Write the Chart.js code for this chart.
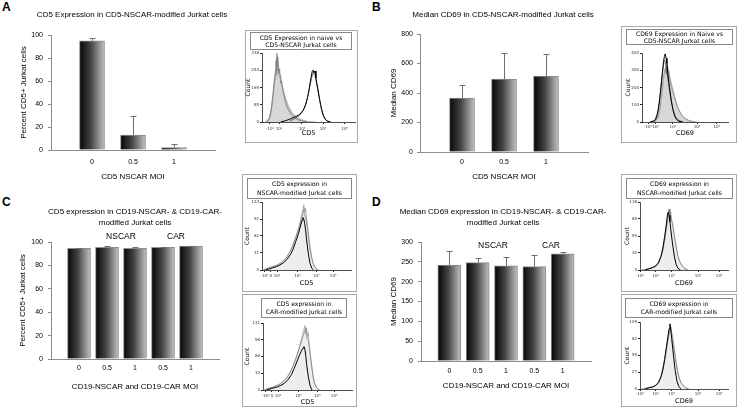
<!DOCTYPE html>
<html lang="en">
<head>
<meta charset="UTF-8">
<title>CD5 / CD69 in NSCAR-modified Jurkat cells</title>
<script src="https://cdn.jsdelivr.net/npm/chart.js"></script>
<style>
  body { margin: 0; width: 738px; height: 412px; background: #fff; position: relative; overflow: hidden;
         font-family: "Liberation Sans", Arial, sans-serif; color: #000; }
  canvas { position: absolute; }
  .t { position: absolute; transform: translate(-50%, -50%) translateZ(0); will-change: transform; white-space: nowrap; font-size: 8px; }
  .letter { position: absolute; font-weight: bold; font-size: 12px; line-height: 12px; }
  .box { position: absolute; border: 1px solid #a8a8a8; box-sizing: border-box; }
  .ibox { position: absolute; border: 1px solid #888; box-sizing: border-box; background: #fff; z-index: 2;
          font-family: "DejaVu Sans", sans-serif; font-size: 6.1px; text-align: center; will-change: transform;
          display: flex; flex-direction: column; justify-content: center; }
</style>
</head>
<body>

<div class="letter" style="left:2px;top:1px">A</div>
<div class="letter" style="left:372px;top:1px">B</div>
<div class="letter" style="left:2px;top:196px">C</div>
<div class="letter" style="left:372px;top:196px">D</div>

<div class="t" style="left:132px;top:14px">CD5 Expression in CD5-NSCAR-modified Jurkat cells</div>
<div class="t" style="left:503px;top:14px">Median CD69 in CD5-NSCAR-modified Jurkat cells</div>
<div class="t" style="left:135px;top:211px">CD5 expression in CD19-NSCAR- &amp; CD19-CAR-</div>
<div class="t" style="left:135px;top:222px">modified Jurkat cells</div>
<div class="t" style="left:503px;top:211px">Median CD69 expression in CD19-NSCAR- &amp; CD19-CAR-</div>
<div class="t" style="left:503px;top:222px">modified Jurkat cells</div>

<div class="t" style="left:121px;top:236px;font-size:8.5px">NSCAR</div>
<div class="t" style="left:176px;top:236px;font-size:8.5px">CAR</div>
<div class="t" style="left:493px;top:245px;font-size:8.5px">NSCAR</div>
<div class="t" style="left:551px;top:245px;font-size:8.5px">CAR</div>

<script>
// ---- bar data ----
const moiAB = ['0', '0.5', '1'];
const pctCD5A = [95, 13, 2];
const pctCD5AErr = [2, 17, 3.5];
const medCD69B = [365, 495, 515];
const medCD69BErr = [90, 177, 147];

const moiCD = ['0', '0.5', '1', '0.5', '1'];
const pctCD5C = [94.5, 95.5, 94.5, 95.5, 96.5];
const pctCD5CErr = [0.5, 1, 1.5, 0.6, 0.5];
const medCD69D = [242, 248, 240, 238, 270];
const medCD69DErr = [36, 12, 23, 30, 5];

// ---- flow histograms: [channel (0-100 along axis), count] ----
const insANaive1 = [[3,0],[6,8],[8,25],[10,70],[11,110],[12,150],[13,200],[14,250],[15,290],[16,320],[17,300],[18,270],[19,240],[20,215],[22,175],[24,140],[26,110],[28,85],[30,65],[33,45],[36,30],[40,18],[45,8],[50,3],[58,0]];
const insANaive2 = [[5,0],[8,20],[10,60],[12,140],[13,190],[14,230],[15,300],[15.5,250],[16,338],[16.5,280],[17,320],[18,240],[19,260],[20,190],[21,200],[23,140],[25,100],[27,70],[30,45],[34,22],[40,8],[48,0]];
const insANaive3 = [[6,0],[9,30],[11,90],[13,170],[14,210],[15,260],[16,230],[17,280],[18,250],[19,220],[20,230],[22,160],[24,130],[26,95],[29,60],[32,40],[36,20],[42,6],[50,0]];
const insANscar1 = [[20,0],[25,6],[30,14],[35,24],[40,35],[44,55],[47,85],[49,120],[51,170],[53,225],[54,248],[55,254],[56,240],[57,250],[58,215],[60,165],[62,110],[64,65],[66,32],[68,14],[70,5],[74,0]];
const insANscar2 = [[30,5],[36,18],[42,40],[46,70],[50,140],[53,210],[55,240],[57,230],[59,180],[61,130],[63,80],[65,40],[68,12],[72,0]];

const insBNscar1 = [[9,0],[13,4],[16,15],[18,45],[20,110],[22,200],[24,300],[25,350],[26,380],[27,395],[28,370],[29,340],[30,280],[32,200],[34,125],[36,70],[38,35],[40,15],[43,4],[47,0]];
const insBNscar2 = [[10,0],[15,10],[19,70],[21,150],[23,250],[25,330],[26,360],[27,350],[28,320],[30,250],[33,150],[36,75],[39,30],[43,8],[48,0]];
const insBNaive1 = [[12,0],[16,6],[19,25],[21,70],[23,150],[25,240],[27,300],[28,330],[29,310],[30,320],[31,290],[33,250],[35,210],[37,170],[39,130],[41,95],[44,60],[47,35],[50,18],[54,8],[58,3],[64,0]];
const insBNaive2 = [[14,0],[18,20],[21,90],[23,180],[25,270],[27,310],[28,280],[29,340],[30,260],[31,300],[33,230],[35,190],[38,140],[41,90],[45,50],[49,25],[55,8],[62,0]];

const insCTopGray1 = [[0,0],[4,2],[8,4],[12,6],[16,8],[20,11],[24,16],[28,23],[31,32],[34,42],[37,55],[40,70],[42,82],[44,96],[46,108],[47,118],[48,106],[49,112],[50,95],[52,70],[54,42],[56,22],[58,9],[61,2],[64,0]];
const insCTopGray2 = [[2,0],[6,3],[10,5],[14,7],[18,10],[22,14],[26,20],[30,29],[33,38],[36,50],[39,64],[42,78],[44,90],[46,102],[47,110],[48,100],[50,88],[52,62],[54,36],[57,14],[60,4],[63,0]];
const insCTopBlack = [[4,0],[8,2],[12,4],[16,6],[20,9],[24,13],[28,19],[32,28],[35,38],[38,52],[41,66],[43,78],[45,90],[46,95],[47,92],[48,84],[49,72],[50,56],[52,30],[54,12],[56,3],[58,0]];

const insCBotGray1 = [[0,0],[4,2],[8,4],[12,6],[16,9],[20,12],[24,18],[28,26],[31,36],[34,48],[37,62],[40,78],[42,92],[44,105],[46,118],[47,126],[48,110],[49,122],[50,104],[51,112],[52,88],[54,58],[56,30],[58,12],[61,3],[64,0]];
const insCBotGray2 = [[2,0],[6,3],[10,5],[14,8],[18,11],[22,16],[26,23],[30,33],[33,44],[36,57],[39,72],[42,88],[44,100],[46,110],[48,120],[49,104],[51,96],[53,70],[55,42],[57,18],[60,5],[63,0]];
const insCBotBlack = [[4,0],[8,2],[12,4],[16,6],[20,9],[24,13],[28,20],[32,30],[35,42],[38,55],[41,68],[43,76],[45,82],[46,85],[47,80],[48,68],[49,50],[51,25],[53,8],[55,0]];

const insDTopGray1 = [[0,0],[6,1],[10,2],[14,4],[18,8],[21,14],[24,25],[26,38],[28,55],[30,75],[31,88],[32,100],[33,104],[34,96],[35,100],[36,88],[38,70],[40,50],[42,32],[44,18],[47,8],[50,3],[55,0]];
const insDTopGray2 = [[4,0],[9,2],[13,3],[17,6],[20,11],[23,20],[26,34],[28,50],[30,70],[32,92],[33,106],[34,98],[35,90],[37,80],[39,60],[41,40],[43,25],[46,12],[50,4],[54,0]];
const insDTopBlack = [[6,0],[10,2],[14,4],[18,7],[21,12],[24,24],[26,38],[28,58],[30,80],[31,94],[32,100],[33,95],[34,84],[35,70],[37,45],[39,24],[41,10],[43,3],[46,0]];

const insDBotGray1 = [[0,0],[6,1],[10,2],[14,3],[18,6],[21,12],[24,22],[26,34],[28,50],[30,68],[32,85],[33,92],[34,98],[35,102],[36,92],[37,85],[39,65],[41,45],[43,28],[45,16],[48,7],[52,2],[56,0]];
const insDBotGray2 = [[4,0],[9,2],[13,3],[17,5],[20,9],[23,17],[26,30],[28,45],[30,62],[32,80],[34,95],[35,100],[36,90],[38,72],[40,52],[42,34],[44,20],[47,9],[51,3],[55,0]];
const insDBotBlack = [[6,0],[10,2],[14,3],[18,6],[21,10],[24,20],[26,32],[28,48],[30,68],[32,88],[33,98],[34,106],[35,96],[36,82],[38,55],[40,30],[42,13],[44,4],[47,0]];

const cd5TickLabels = ['-10²', '10²', '10³', '10⁴', '10⁵'];
const cd5TickLabelsZero = ['-10²', '0', '10²', '10³', '10⁴', '10⁵'];

const ARIAL = '"Liberation Sans", Arial, sans-serif';
const DEJAVU = '"DejaVu Sans", sans-serif';

const errorBars = {
  id: 'errbars',
  afterDatasetsDraw(chart, args, opts) {
    const { ctx, scales: { x, y } } = chart;
    const vals = chart.data.datasets[0].data;
    ctx.save();
    ctx.strokeStyle = '#6e6e6e';
    ctx.lineWidth = 1;
    opts.errors.forEach((e, i) => {
      if (e == null || vals[i] == null) return;
      const px = Math.round(x.getPixelForValue(i)) + 0.5;
      const y0 = y.getPixelForValue(vals[i]);
      const y1 = Math.round(y.getPixelForValue(vals[i] + e)) + 0.5;
      ctx.beginPath();
      ctx.moveTo(px, y0); ctx.lineTo(px, y1);
      ctx.moveTo(px - 3, y1); ctx.lineTo(px + 3, y1);
      ctx.stroke();
    });
    ctx.restore();
  }
};

function place(r) {
  const c = document.createElement('canvas');
  c.width = r.w; c.height = r.h;
  c.style.left = r.x + 'px'; c.style.top = r.y + 'px';
  document.body.appendChild(c);
  return c;
}

function barChart(r, area, cats, vals, errs, yMax, yStep, barW, yTitle, xTitle, pad) {
  const labels = ['', ...cats, ''];
  const data = [null, ...vals, null];
  const errors = [null, ...errs, null];
  new Chart(place(r), {
    type: 'bar',
    data: {
      labels,
      datasets: [{
        data,
        barThickness: barW,
        borderColor: '#8c8c8c',
        borderWidth: 1,
        backgroundColor: (c) => {
          const ch = c.chart;
          if (!ch.chartArea) return '#555';
          const px = ch.scales.x.getPixelForValue(c.dataIndex);
          const g = ch.ctx.createLinearGradient(px - barW / 2, 0, px + barW / 2, 0);
          g.addColorStop(0, '#050505');
          g.addColorStop(0.45, '#444');
          g.addColorStop(1, '#c2c2c2');
          return g;
        }
      }]
    },
    options: {
      responsive: false, animation: false, devicePixelRatio: 1,
      layout: { padding: { left: 0, top: area.t - r.y, right: r.x + r.w - area.r, bottom: 0 } },
      plugins: { legend: { display: false }, tooltip: { enabled: false }, errbars: { errors } },
      scales: {
        x: {
          type: 'category', offset: false,
          afterFit: s => { s.height = r.y + r.h - area.b; },
          grid: { display: false, drawTicks: false },
          border: { color: '#8c8c8c' },
          ticks: { padding: pad.xt, color: '#000', font: { family: ARIAL, size: 7 }, autoSkip: false, maxRotation: 0 },
          title: { display: true, text: xTitle, color: '#000', font: { family: ARIAL, size: 8 }, padding: { top: 0, bottom: pad.xT } }
        },
        y: {
          min: 0, max: yMax,
          afterFit: s => { s.width = area.l - r.x; },
          ticks: { stepSize: yStep, padding: pad.yt, color: '#000', font: { family: ARIAL, size: 7 } },
          grid: { drawOnChartArea: false, tickLength: 3, color: '#8c8c8c' },
          border: { color: '#8c8c8c' },
          title: { display: true, text: yTitle, color: '#000', font: { family: ARIAL, size: 8 }, padding: { top: pad.yT, bottom: 0 } }
        }
      }
    },
    plugins: [errorBars]
  });
}

barChart({ x: 0, y: 20, w: 230, h: 165 }, { l: 51, t: 35, r: 215, b: 150 }, moiAB, pctCD5A, pctCD5AErr,
  100, 20, 25, 'Percent CD5+ Jurkat cells', 'CD5 NSCAR MOI', { xt: 8, xT: 3, yt: 5, yT: 19 });
barChart({ x: 370, y: 20, w: 230, h: 165 }, { l: 420, t: 34, r: 588, b: 152 }, moiAB, medCD69B, medCD69BErr,
  800, 200, 25, 'Median CD69', 'CD5 NSCAR MOI', { xt: 6, xT: 3, yt: 4, yT: 19 });
barChart({ x: 0, y: 225, w: 235, h: 170 }, { l: 51, t: 242, r: 219, b: 359 }, moiCD, pctCD5C, pctCD5CErr,
  100, 20, 23, 'Percent CD5+ Jurkat cells', 'CD19-NSCAR and CD19-CAR MOI', { xt: 5, xT: 3, yt: 5, yT: 18 });
barChart({ x: 370, y: 225, w: 235, h: 170 }, { l: 421, t: 242, r: 591, b: 361 }, moiCD, medCD69D, medCD69DErr,
  300, 50, 23, 'Median CD69', 'CD19-NSCAR and CD19-CAR MOI', { xt: 6, xT: 4, yt: 5, yT: 19 });

// ---- flow insets ----
const BLACK = { line: '#000', w: 1 };
const BLACK2 = { line: 'rgba(20,20,20,0.8)', w: 0.7 };
const GRAY_FILL = { line: 'rgba(150,150,150,0.8)', fill: 'rgba(175,175,175,0.5)', w: 0.7 };
const GRAY_LIGHT = { line: 'rgba(150,150,150,0.9)', fill: 'rgba(200,200,200,0.3)', w: 0.8 };
const GRAY_LINE = { line: 'rgba(110,110,110,0.85)', w: 0.7 };
const GRAY_LINE2 = { line: 'rgba(135,135,135,0.8)', w: 0.7 };

function flowInset(o) {
  const b = o.box, p = o.plot;
  const boxDiv = document.createElement('div');
  boxDiv.className = 'box';
  Object.assign(boxDiv.style, { left: b.x + 'px', top: b.y + 'px', width: b.w + 'px', height: b.h + 'px' });
  document.body.appendChild(boxDiv);

  const tb = document.createElement('div');
  tb.className = 'ibox';
  Object.assign(tb.style, { left: o.tbox.x + 'px', top: o.tbox.y + 'px', width: o.tbox.w + 'px', height: o.tbox.h + 'px', lineHeight: o.tbox.lh + 'px' });
  tb.innerHTML = o.title.map(s => '<div>' + s + '</div>').join('');
  document.body.appendChild(tb);

  new Chart(place(b), {
    type: 'line',
    data: {
      datasets: o.curves.map(([pts, st]) => ({
        data: pts.map(([x, y]) => ({ x, y })),
        borderColor: st.line,
        backgroundColor: st.fill || 'transparent',
        fill: st.fill ? 'origin' : false,
        borderWidth: st.w,
        pointRadius: 0,
        tension: 0
      }))
    },
    options: {
      responsive: false, animation: false, devicePixelRatio: 1,
      layout: { padding: { left: 0, top: p.t - b.y, right: b.x + b.w - p.r, bottom: 0 } },
      plugins: { legend: { display: false }, tooltip: { enabled: false } },
      scales: {
        x: {
          type: 'linear', min: 0, max: 100,
          afterFit: s => { s.height = b.y + b.h - p.b; },
          afterBuildTicks: s => { s.ticks = o.xTicks.map(v => ({ value: v })); },
          grid: { drawOnChartArea: false, tickLength: 2, color: '#222' },
          border: { color: '#222', width: 0.8 },
          ticks: { padding: o.pad.xt, color: '#333', font: { family: DEJAVU, size: 4 }, maxRotation: 0, autoSkip: false,
                   callback: (v, i) => o.xLabels[i] },
          title: { display: true, text: o.xTitle, color: '#000', font: { family: DEJAVU, size: 6.5 }, padding: { top: 0, bottom: o.pad.xT } }
        },
        y: {
          min: 0, max: o.yTicks[o.yTicks.length - 1],
          afterFit: s => { s.width = p.l - b.x; },
          afterBuildTicks: s => { s.ticks = o.yTicks.map(v => ({ value: v })); },
          grid: { drawOnChartArea: false, tickLength: 2, color: '#222' },
          border: { color: '#222', width: 0.8 },
          ticks: { padding: 1, color: '#333', font: { family: DEJAVU, size: 4 } },
          title: { display: true, text: 'Count', color: '#000', font: { family: DEJAVU, size: 6 }, padding: { top: o.pad.yT, bottom: 0 } }
        }
      }
    }
  });
}

flowInset({
  box: { x: 245, y: 30, w: 113, h: 113 }, plot: { l: 262, t: 53, r: 355, b: 122 },
  tbox: { x: 250, y: 32, w: 102, h: 18, lh: 7 }, title: ['CD5 Expression in naive vs', 'CD5-NSCAR Jurkat cells'],
  yTicks: [0, 85, 169, 254, 338], xTicks: [8.6, 18.3, 43, 65.6, 89], xLabels: cd5TickLabels, xTitle: 'CD5',
  pad: { xt: 2.6, xT: 6, yT: 0 },
  curves: [[insANscar1, BLACK], [insANscar2, BLACK2], [insANaive2, GRAY_LINE], [insANaive3, GRAY_LINE2], [insANaive1, GRAY_FILL]]
});
flowInset({
  box: { x: 621, y: 26, w: 116, h: 117 }, plot: { l: 642, t: 53, r: 728, b: 122 },
  tbox: { x: 626, y: 29, w: 107, h: 16, lh: 7 }, title: ['CD69 Expression in Naive vs', 'CD5-NSCAR Jurkat cells'],
  yTicks: [0, 100, 200, 300, 400], xTicks: [7, 16, 36, 64, 87], xLabels: cd5TickLabels, xTitle: 'CD69',
  pad: { xt: 0.6, xT: 6, yT: 3.4 },
  curves: [[insBNscar1, BLACK], [insBNscar2, BLACK2], [insBNaive2, GRAY_LINE], [insBNaive1, GRAY_FILL]]
});
flowInset({
  box: { x: 242, y: 174, w: 115, h: 118 }, plot: { l: 262, t: 202, r: 351, b: 270 },
  tbox: { x: 247, y: 178, w: 105, h: 21, lh: 8.5 }, title: ['CD5 expression in', 'NSCAR-modified Jurkat cells'],
  yTicks: [0, 31, 62, 92, 123], xTicks: [3, 10, 17, 40, 61, 80], xLabels: cd5TickLabelsZero, xTitle: 'CD5',
  pad: { xt: 1.6, xT: 5, yT: 1.4 },
  curves: [[insCTopBlack, BLACK], [insCTopGray2, GRAY_LINE], [insCTopGray1, GRAY_LIGHT]]
});
flowInset({
  box: { x: 242, y: 294, w: 115, h: 113 }, plot: { l: 263, t: 323, r: 352, b: 390 },
  tbox: { x: 261, y: 298, w: 86, h: 20, lh: 8.5 }, title: ['CD5 expression in', 'CAR-modified Jurkat cells'],
  yTicks: [0, 33, 66, 98, 131], xTicks: [3, 10, 17, 40, 61, 80], xLabels: cd5TickLabelsZero, xTitle: 'CD5',
  pad: { xt: 1.6, xT: 1, yT: 1.4 },
  curves: [[insCBotBlack, BLACK], [insCBotGray2, GRAY_LINE], [insCBotGray1, GRAY_LIGHT]]
});
flowInset({
  box: { x: 621, y: 174, w: 116, h: 118 }, plot: { l: 640, t: 202, r: 728, b: 270 },
  tbox: { x: 626, y: 178, w: 107, h: 21, lh: 8.5 }, title: ['CD69 expression in', 'NSCAR-modified Jurkat cells'],
  yTicks: [0, 30, 59, 89, 118], xTicks: [0, 18, 36, 66, 90], xLabels: cd5TickLabels, xTitle: 'CD69',
  pad: { xt: 1.6, xT: 5, yT: 2.4 },
  curves: [[insDTopBlack, BLACK], [insDTopGray2, GRAY_LINE], [insDTopGray1, GRAY_LIGHT]]
});
flowInset({
  box: { x: 621, y: 294, w: 116, h: 113 }, plot: { l: 640, t: 322, r: 728, b: 389 },
  tbox: { x: 625, y: 298, w: 108, h: 20, lh: 8.5 }, title: ['CD69 expression in', 'CAR-modified Jurkat cells'],
  yTicks: [0, 27, 55, 82, 109], xTicks: [0, 18, 36, 66, 90], xLabels: cd5TickLabels, xTitle: 'CD69',
  pad: { xt: 0.6, xT: 2, yT: 2.4 },
  curves: [[insDBotBlack, BLACK], [insDBotGray2, GRAY_LINE], [insDBotGray1, GRAY_LIGHT]]
});
</script>
</body>
</html>
